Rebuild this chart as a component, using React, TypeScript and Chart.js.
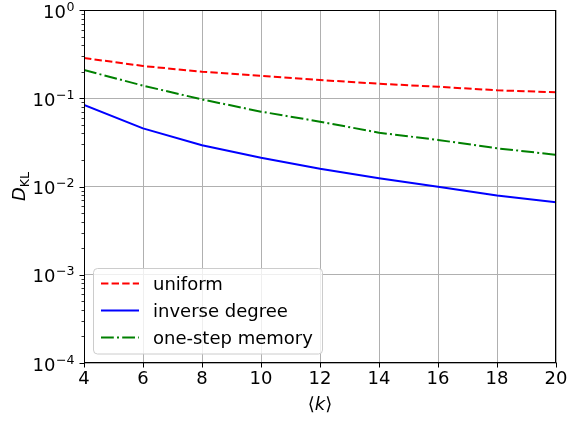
import React, { useEffect, useRef } from 'react';
import { Chart, registerables } from 'chart.js';

Chart.register(...registerables);

const kValues = [4, 6, 8, 10, 12, 14, 16, 18, 20];
const uniform = [0.286, 0.232, 0.2, 0.179, 0.161, 0.146, 0.135, 0.123, 0.117];
const inverseDegree = [0.0839, 0.0456, 0.0293, 0.0212, 0.0159, 0.0124, 0.00995, 0.0079, 0.00662];
const oneStepMemory = [0.209, 0.139, 0.097, 0.0705, 0.0543, 0.0407, 0.0337, 0.0271, 0.0229];
const seriesLabels = ['uniform', 'inverse degree', 'one-step memory'];
const seriesColors = ['#ff0000', '#0000ff', '#008000'];
const seriesDashes = [[7.4, 3.2], [], [12.8, 3.2, 2, 3.2]];
const xTicks = [4, 6, 8, 10, 12, 14, 16, 18, 20];
const yDecades = [1e-4, 1e-3, 1e-2, 1e-1, 1];
const yExponents = ['\u22124', '\u22123', '\u22122', '\u22121', '0'];

const FONT = '"DejaVu Sans", sans-serif';

const decorPlugin = {
  id: 'decor',
  afterDraw(chart: any) {
    const ctx = chart.ctx as CanvasRenderingContext2D;
    const { left, right, top, bottom } = chart.chartArea;
    const xs = chart.scales.x;
    const ys = chart.scales.y;
    ctx.save();

    // legend
    const lx = 93.5, ly = 268.5, lw = 229, lh = 85.5, r = 4;
    ctx.beginPath();
    ctx.moveTo(lx + r, ly);
    ctx.lineTo(lx + lw - r, ly);
    ctx.arcTo(lx + lw, ly, lx + lw, ly + r, r);
    ctx.lineTo(lx + lw, ly + lh - r);
    ctx.arcTo(lx + lw, ly + lh, lx + lw - r, ly + lh, r);
    ctx.lineTo(lx + r, ly + lh);
    ctx.arcTo(lx, ly + lh, lx, ly + lh - r, r);
    ctx.lineTo(lx, ly + r);
    ctx.arcTo(lx, ly, lx + r, ly, r);
    ctx.closePath();
    ctx.fillStyle = 'rgba(255,255,255,0.8)';
    ctx.fill();
    ctx.strokeStyle = '#cccccc';
    ctx.lineWidth = 1;
    ctx.stroke();

    const rowY = [283.5, 310.5, 337.5];
    seriesLabels.forEach((lab, i) => {
      ctx.beginPath();
      ctx.setLineDash(seriesDashes[i]);
      ctx.strokeStyle = seriesColors[i];
      ctx.lineWidth = 2;
      ctx.moveTo(101, rowY[i]);
      ctx.lineTo(139, rowY[i]);
      ctx.stroke();
      ctx.setLineDash([]);
      ctx.fillStyle = '#000';
      ctx.font = `18px ${FONT}`;
      ctx.textAlign = 'left';
      ctx.textBaseline = 'alphabetic';
      ctx.fillText(lab, 153, rowY[i] + 6.5);
    });

    // frame
    ctx.strokeStyle = '#000';
    ctx.lineWidth = 1;
    const L = Math.round(left) + 0.5, R = Math.round(right) - 0.5;
    const T = Math.round(top) + 0.5, B = Math.round(bottom) - 0.5;
    ctx.strokeRect(L, T, R - L, B - T);

    // x ticks
    ctx.beginPath();
    xTicks.forEach((v) => {
      const px = Math.round(xs.getPixelForValue(v)) + 0.5;
      ctx.moveTo(px, B);
      ctx.lineTo(px, B + 5);
    });
    // y major ticks
    yDecades.forEach((v) => {
      const py = Math.round(ys.getPixelForValue(v)) + 0.5;
      ctx.moveTo(L, py);
      ctx.lineTo(L - 5, py);
    });
    ctx.stroke();
    // y minor ticks
    ctx.beginPath();
    ctx.lineWidth = 0.8;
    yDecades.slice(0, -1).forEach((d) => {
      for (let m = 2; m <= 9; m++) {
        const py = Math.round(ys.getPixelForValue(m * d)) + 0.5;
        ctx.moveTo(L, py);
        ctx.lineTo(L - 3, py);
      }
    });
    ctx.stroke();

    // y tick labels
    ctx.fillStyle = '#000';
    ctx.textAlign = 'left';
    ctx.textBaseline = 'alphabetic';
    const labRight = left - 9.5;
    yDecades.forEach((v, i) => {
      const py = ys.getPixelForValue(v);
      ctx.font = `12.6px ${FONT}`;
      const ew = ctx.measureText(yExponents[i]).width;
      ctx.font = `18px ${FONT}`;
      const bw = ctx.measureText('10').width;
      const bx = labRight - ew - bw - 0.5;
      ctx.fillText('10', bx, py + 7.5);
      ctx.font = `12.6px ${FONT}`;
      ctx.fillText(yExponents[i], labRight - ew, py + 0.5);
    });

    // y axis title D_KL
    ctx.save();
    ctx.translate(0, (top + bottom) / 2);
    ctx.rotate(-Math.PI / 2);
    ctx.font = `italic 18px ${FONT}`;
    const dw = ctx.measureText('D').width;
    ctx.font = `12.6px ${FONT}`;
    const kw = ctx.measureText('KL').width;
    const start = -(dw + kw) / 2;
    ctx.font = `italic 18px ${FONT}`;
    ctx.fillText('D', start, 25);
    ctx.font = `12.6px ${FONT}`;
    ctx.fillText('KL', start + dw, 28.5);
    ctx.restore();

    // x axis title <k>
    ctx.font = `18px ${FONT}`;
    const lbw = ctx.measureText('\u27E8').width;
    const rbw = ctx.measureText('\u27E9').width;
    ctx.font = `italic 18px ${FONT}`;
    const kkw = ctx.measureText('k').width;
    const cx = (left + right) / 2;
    let xx = cx - (lbw + kkw + rbw) / 2;
    const by = 410;
    ctx.font = `18px ${FONT}`;
    ctx.fillText('\u27E8', xx, by);
    xx += lbw;
    ctx.font = `italic 18px ${FONT}`;
    ctx.fillText('k', xx, by);
    xx += kkw;
    ctx.font = `18px ${FONT}`;
    ctx.fillText('\u27E9', xx, by);

    ctx.restore();
  },
};

export default function App() {
  const ref = useRef<HTMLCanvasElement>(null);

  useEffect(() => {
    document.body.style.margin = '0';
    const canvas = ref.current;
    if (!canvas) return;
    const series = [uniform, inverseDegree, oneStepMemory];
    const chart = new Chart(canvas, {
      type: 'line',
      data: {
        datasets: series.map((s, i) => ({
          label: seriesLabels[i],
          data: kValues.map((k, j) => ({ x: k, y: s[j] })),
          borderColor: seriesColors[i],
          backgroundColor: seriesColors[i],
          borderWidth: 2,
          borderDash: seriesDashes[i],
          borderCapStyle: 'butt',
          borderJoinStyle: 'round',
          pointRadius: 0,
          fill: false,
          tension: 0,
        })),
      },
      options: {
        animation: false,
        responsive: false,
        maintainAspectRatio: false,
        layout: { padding: { top: 10, right: 12, left: 0, bottom: 0 } },
        plugins: { legend: { display: false }, tooltip: { enabled: false } },
        scales: {
          x: {
            type: 'linear',
            min: 4,
            max: 20,
            afterBuildTicks: (s: any) => {
              s.ticks = xTicks.map((v) => ({ value: v }));
            },
            afterFit: (s: any) => {
              s.height = 59;
              s.paddingLeft = 0;
              s.paddingRight = 0;
            },
            grid: { color: '#b0b0b0', lineWidth: 1, drawTicks: false },
            border: { display: false },
            ticks: {
              font: { family: FONT, size: 18 },
              color: '#000',
              padding: 6,
              maxRotation: 0,
              autoSkip: false,
            },
          },
          y: {
            type: 'logarithmic',
            min: 1e-4,
            max: 1,
            afterBuildTicks: (s: any) => {
              s.ticks = yDecades.map((v) => ({ value: v }));
            },
            afterFit: (s: any) => {
              s.width = 84;
              s.paddingTop = 0;
              s.paddingBottom = 0;
            },
            grid: { color: '#b0b0b0', lineWidth: 1, drawTicks: false },
            border: { display: false },
            ticks: { display: false },
          },
        },
      } as any,
      plugins: [decorPlugin],
    });
    return () => chart.destroy();
  }, []);

  return <canvas ref={ref} width={568} height={422} style={{ display: 'block' }} />;
}
